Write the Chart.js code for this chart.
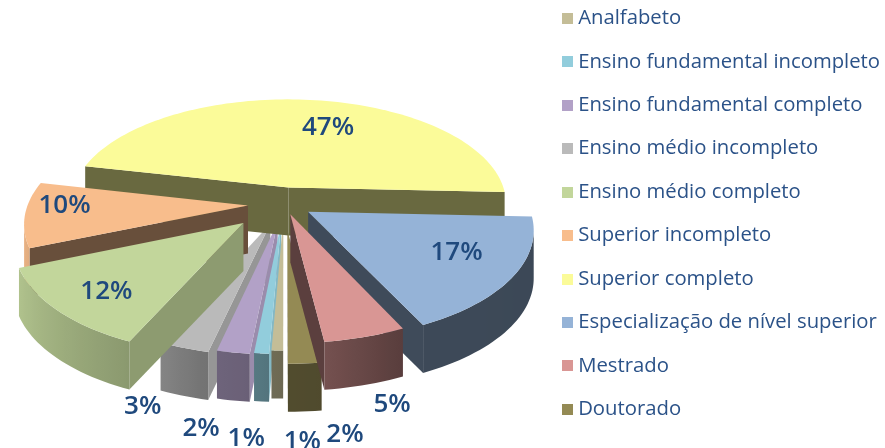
<!DOCTYPE html>
<html>
<head>
<meta charset="utf-8">
<style>
	html, body { margin: 0; padding: 0; background: #fff; overflow: hidden; }
	canvas { display: block; }
</style>
<script src="https://cdn.jsdelivr.net/npm/chart.js@4/dist/chart.umd.js"></script>
</head>
<body>
<canvas id="mychart" width="885" height="448"></canvas>
<script>
var categories = ['Analfabeto', 'Ensino fundamental incompleto', 'Ensino fundamental completo', 'Ensino médio incompleto', 'Ensino médio completo', 'Superior incompleto', 'Superior completo', 'Especialização de nível superior', 'Mestrado', 'Doutorado'];
var percentuais = [0.7, 0.9, 2.0, 3.1, 12.1, 9.7, 47.2, 17.2, 5.1, 2.0];
var cores = ['#c4bd97', '#92cddc', '#b2a1c7', '#bababa', '#c2d69b', '#f8bd8c', '#fbfb99', '#95b3d7', '#d99694', '#948a54'];
var explosao = [0.145, 0.167, 0.173, 0.19, 0.25, 0.164, 0.16, 0.13, 0.1, 0.23];
var ajusteRotulo = [[23, 135], [-22, 129], [-47, 120], [-70, 100], [-11, 10], [-28, -6], [22, 4], [9, -4], [52, 109], [46, 116]];
var ordemDesenho = [3, 2, 1, 0, 9, 6, 5, 7, 4, 8];

var vista = { cx: 284, cy: 204, a: 220, b: 106, p: 0.15, prof: 48 };
var tomAro = [[0, 0.4], [65, 0.41], [83, 0.54], [90, 0.55], [97, 0.6], [104, 0.62], [115, 0.72], [150, 0.88], [170, 0.95], [200, 0.95], [360, 0.4]];

function projeta(u, v) {
	var d = 1 - vista.p * v;
	return { x: vista.cx + vista.a * u / d, y: vista.cy + vista.b * v / d };
}

function escurece(hex, f) {
	var n = parseInt(hex.slice(1), 16);
	return 'rgb(' + Math.round((n >> 16) * f) + ',' + Math.round(((n >> 8) & 255) * f) + ',' + Math.round((n & 255) * f) + ')';
}

function sombraAro(ang) {
	var g = ((ang * 180 / Math.PI) % 360 + 360) % 360;
	for (var i = 1; i < tomAro.length; i++) {
		if (g <= tomAro[i][0]) {
			var t = (g - tomAro[i - 1][0]) / (tomAro[i][0] - tomAro[i - 1][0]);
			return tomAro[i - 1][1] + t * (tomAro[i][1] - tomAro[i - 1][1]);
		}
	}
	return 0.4;
}

// parede reta: clara quando olha para a direita, escura no resto
function sombraParede(a, b) {
	var n = Math.atan2(a.x - b.x, b.y - a.y) * 180 / Math.PI;
	if (n > 0 && n < 45) return 0.72 + (45 - n) / 45 * 0.2;
	if (n >= 45 && n < 70) return 0.42 + (70 - n) / 25 * 0.3;
	return 0.42;
}

function parede(ctx, a, b, cor) {
	ctx.fillStyle = cor;
	ctx.beginPath();
	ctx.moveTo(a.x, a.y);
	ctx.lineTo(b.x, b.y);
	ctx.lineTo(b.x, b.y + vista.prof);
	ctx.lineTo(a.x, a.y + vista.prof);
	ctx.closePath();
	ctx.fill();
}

// aro curvo: um caminho so, com gradiente horizontal pelos tons
function desenhaAro(ctx, vis, cor) {
	if (vis.length < 2) return;
	var x0 = vis[0].x, x1 = vis[vis.length - 1].x;
	var grad = ctx.createLinearGradient(x0, 0, x1, 0);
	vis.forEach(function (q) {
		grad.addColorStop((q.x - x0) / (x1 - x0), escurece(cor, sombraAro(q.ang)));
	});
	ctx.fillStyle = grad;
	ctx.beginPath();
	vis.forEach(function (q, k) {
		if (k === 0) ctx.moveTo(q.x, q.y);
		else ctx.lineTo(q.x, q.y);
	});
	for (var k = vis.length - 1; k >= 0; k--) ctx.lineTo(vis[k].x, vis[k].y + vista.prof);
	ctx.closePath();
	ctx.fill();
}

function desenhaFatia(ctx, arc, i) {
	var e = arc.options.offset / 100;
	var meio = (arc.startAngle + arc.endAngle) / 2;
	var ox = e * Math.cos(meio), oy = e * Math.sin(meio);
	var cor = cores[i];
	var pts = [];
	var passos = Math.max(2, Math.ceil((arc.endAngle - arc.startAngle) / 0.03));
	for (var k = 0; k <= passos; k++) {
		var ang = arc.startAngle + (arc.endAngle - arc.startAngle) * k / passos;
		var q = projeta(ox + Math.cos(ang), oy + Math.sin(ang));
		q.ang = ang;
		pts.push(q);
	}
	var centro = projeta(ox, oy);

	if (pts[0].x < centro.x) parede(ctx, centro, pts[0], escurece(cor, sombraParede(centro, pts[0])));
	if (centro.x < pts[passos].x) parede(ctx, pts[passos], centro, escurece(cor, sombraParede(pts[passos], centro)));

	var vis = [];
	for (k = 0; k < passos; k++) {
		if (pts[k + 1].x < pts[k].x) {
			if (!vis.length) vis.push(pts[k]);
			vis.push(pts[k + 1]);
		}
	}
	desenhaAro(ctx, vis.slice().reverse(), cor);

	ctx.fillStyle = cor;
	ctx.beginPath();
	ctx.moveTo(centro.x, centro.y);
	for (k = 0; k <= passos; k++) ctx.lineTo(pts[k].x, pts[k].y);
	ctx.closePath();
	ctx.fill();
}

function quadradoLegenda(cor) {
	var c = document.createElement('canvas');
	c.width = 11;
	c.height = 11;
	var g = c.getContext('2d');
	g.fillStyle = cor;
	g.fillRect(0, 0, 11, 11);
	return c;
}

var pizza3d = {
	id: 'pizza3d',
	beforeDraw: function (chart) {
		// espacamento da legenda do original nao cabe no fit, acerta aqui
		var legenda = chart.legend;
		legenda.options.labels.padding = 23.15;
		legenda.top = -15;
		legenda.left = 567 - 23.15;
	},
	beforeDatasetsDraw: function (chart) {
		var ctx = chart.ctx;
		var arcos = chart.getDatasetMeta(0).data;
		ordemDesenho.forEach(function (i) { desenhaFatia(ctx, arcos[i], i); });

		ctx.font = '600 26px "Open Sans"';
		ctx.fillStyle = '#1f497d';
		ctx.textAlign = 'center';
		ctx.textBaseline = 'middle';
		arcos.forEach(function (arc, i) {
			var e = arc.options.offset / 100;
			var meio = (arc.startAngle + arc.endAngle) / 2;
			var p = projeta((e + 0.7) * Math.cos(meio), (e + 0.7) * Math.sin(meio));
			ctx.fillText(Math.round(percentuais[i]) + '%', p.x + ajusteRotulo[i][0], p.y + ajusteRotulo[i][1]);
		});
		return false;
	}
};

var myChart = new Chart(document.getElementById('mychart').getContext('2d'), {
	type: 'pie',
	data: {
		labels: categories,
		datasets: [{
			data: percentuais,
			backgroundColor: cores,
			borderWidth: 0,
			offset: explosao.map(function (e) { return e * 100; })
		}]
	},
	options: {
		responsive: false,
		animation: false,
		rotation: 180,
		events: [],
		plugins: {
			tooltip: { enabled: false },
			legend: {
				position: 'right',
				align: 'start',
				labels: {
					color: '#2b5288',
					font: { family: '"Open Sans"', size: 20.3 },
					usePointStyle: true,
					pointStyleWidth: 1,
					boxHeight: 11,
					padding: 12,
					generateLabels: function (chart) {
						var itens = Chart.overrides.pie.plugins.legend.labels.generateLabels(chart);
						itens.forEach(function (item, i) { item.pointStyle = quadradoLegenda(cores[i]); });
						return itens;
					}
				}
			}
		}
	},
	plugins: [pizza3d]
});
</script>
</body>
</html>
